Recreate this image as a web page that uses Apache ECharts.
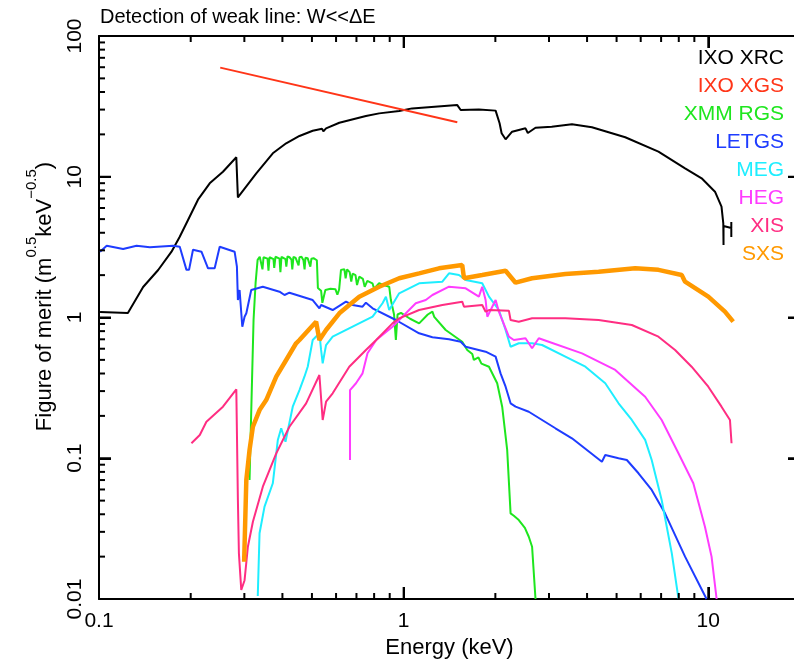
<!DOCTYPE html>
<html><head><meta charset="utf-8">
<script src="https://cdn.jsdelivr.net/npm/echarts@6/dist/echarts.min.js"></script>
<style>html,body{margin:0;padding:0;background:#fff}#c{width:794px;height:664px}</style>
</head><body><div id="c"></div>
<script>
const FONT = 'Liberation Sans, Arial, Helvetica, sans-serif';
const seriesNames = ['IXO XRC','IXO XGS','XMM RGS','LETGS','MEG','HEG','XIS','SXS'];
const seriesColors = ['#000000','#ff3518','#1ee61e','#1e3cff','#1eeeff','#ff3cff','#ff2d82','#ff9900'];
const seriesWidths = [2,2,2,2,2,2,2,4.5];
const xTickLabels = ['0.1','1','10'];
const yTickLabels = ['0.01','0.1','1','10','100'];
const xMinorTicks = [0.2,0.3,0.4,0.5,0.6,0.7,0.8,0.9,2,3,4,5,6,7,8,9];
const yMinorTicks = [0.02,0.03,0.04,0.05,0.06,0.07,0.08,0.09,0.2,0.3,0.4,0.5,0.6,0.7,0.8,0.9,2,3,4,5,6,7,8,9,20,30,40,50,60,70,80,90];
const xRange = [0.1, 20];
const yRange = [0.01, 100];

// [energy keV, figure of merit]
const ixoXrc = [[0.1008,1.094],[0.1244,1.076],[0.1396,1.647],[0.1564,2.175],[0.173,2.934],[0.1841,3.75],[0.196,4.93],[0.2113,6.87],[0.2309,8.98],[0.2552,10.86],[0.2823,13.75],[0.2857,7.14],[0.3283,10.58],[0.372,14.68],[0.4115,17.29],[0.455,19.48],[0.5029,21.24],[0.54,21.9],[0.545,21.0],[0.5563,22.08],[0.615,24.2],[0.7519,27.0],[0.831,28.2],[0.9667,29.3],[1.066,30.6],[1.5,32.3],[1.539,29.8],[1.766,30.1],[2.004,29.5],[2.065,23.98],[2.097,20.35],[2.161,18.45],[2.27,20.9],[2.512,22.08],[2.556,20.46],[2.709,22.3],[3.062,22.7],[3.568,23.6],[4.15,22.45],[5.338,19.07],[6.86,15.07],[8.39,11.48],[9.51,9.75],[10.52,7.83],[11.05,6.13],[11.2,4.67],[11.22,3.27],[11.22,4.47],[11.9,4.32],[11.9,4.77],[11.9,3.73]];
const ixoXgs = [[0.25,59.6],[1.5,24.4]];
const xmmRgs = [[0.312,0.070],[0.3167,0.259],[0.3216,0.96],[0.3266,1.76],[0.3316,2.57],[0.337,2.70],[0.3416,2.65],[0.344,2.2],[0.3468,2.68],[0.352,2.72],[0.3574,2.62],[0.360,2.15],[0.3628,2.68],[0.368,2.70],[0.3739,2.6],[0.376,2.25],[0.3795,2.7],[0.385,2.68],[0.3913,2.62],[0.394,2.1],[0.3972,2.7],[0.403,2.66],[0.4094,2.6],[0.412,2.3],[0.4156,2.72],[0.422,2.68],[0.4283,2.58],[0.431,2.2],[0.4348,2.7],[0.442,2.65],[0.4482,2.6],[0.452,2.35],[0.455,2.68],[0.462,2.7],[0.469,2.55],[0.473,2.2],[0.476,2.66],[0.484,2.64],[0.4905,2.6],[0.494,2.3],[0.498,2.62],[0.506,2.64],[0.5132,2.6],[0.519,2.55],[0.523,1.62],[0.529,1.61],[0.5358,1.55],[0.541,1.27],[0.5534,1.57],[0.575,1.6],[0.597,1.59],[0.606,1.45],[0.614,1.58],[0.6228,2.18],[0.632,2.25],[0.639,2.2],[0.645,1.9],[0.652,2.2],[0.665,2.1],[0.673,1.8],[0.68,2.05],[0.695,2.0],[0.703,1.7],[0.715,1.95],[0.735,1.88],[0.745,1.65],[0.76,1.82],[0.79,1.75],[0.80,1.6],[0.831,1.75],[0.86,1.7],[0.8966,1.655],[0.908,1.33],[0.93,1.05],[0.9429,0.692],[0.955,1.05],[0.98,1.08],[1.05,0.98],[1.124,0.909],[1.2,1.05],[1.243,1.10],[1.26,1.01],[1.374,0.815],[1.557,0.673],[1.617,0.588],[1.68,0.55],[1.70,0.5],[1.723,0.499],[1.76,0.52],[1.8,0.47],[1.906,0.447],[2.028,0.341],[2.106,0.2325],[2.187,0.1145],[2.244,0.0406],[2.30,0.039],[2.388,0.0364],[2.5,0.032],[2.575,0.0277],[2.64,0.0235],[2.709,0.01]];
const letgs = [[0.1008,2.934],[0.106,3.237],[0.12,3.066],[0.1328,3.237],[0.1469,3.153],[0.175,3.237],[0.1841,3.18],[0.1937,2.18],[0.1975,2.18],[0.2035,3.03],[0.2169,2.934],[0.228,2.236],[0.2397,2.236],[0.249,3.18],[0.2787,2.934],[0.2836,2.296],[0.2857,1.331],[0.2894,1.568],[0.2954,0.86],[0.3005,1.013],[0.3045,1.071],[0.316,1.568],[0.345,1.655],[0.3913,1.525],[0.4064,1.445],[0.4218,1.50],[0.5029,1.331],[0.529,1.162],[0.5358,1.227],[0.5848,1.13],[0.6468,1.295],[0.68,1.227],[0.733,1.193],[0.752,1.274],[0.7908,1.162],[0.9429,0.96],[1.124,0.772],[1.243,0.723],[1.409,0.70],[1.539,0.673],[1.598,0.62],[1.858,0.5715],[2.004,0.527],[2.08,0.401],[2.161,0.3224],[2.244,0.2457],[2.33,0.2325],[2.575,0.214],[3.149,0.1633],[3.568,0.1386],[4.475,0.0945],[4.59,0.1054],[5.075,0.0999],[5.403,0.0972],[5.9,0.0782],[6.52,0.0595],[7.21,0.0406],[8.39,0.02],[9.87,0.01]];
const meg = [[0.332,0.0105],[0.3365,0.0293],[0.3494,0.0453],[0.372,0.0664],[0.3864,0.135],[0.3963,0.1633],[0.4094,0.131],[0.4325,0.2325],[0.455,0.305],[0.4724,0.3797],[0.4843,0.447],[0.5029,0.692],[0.529,0.772],[0.5358,0.588],[0.5423,0.4727],[0.5563,0.6375],[0.5848,0.7305],[0.68,0.86],[0.7908,1.013],[0.8524,1.262],[0.8746,1.406],[0.8966,1.13],[0.9667,1.486],[1.124,1.75],[1.34,1.797],[1.409,2.06],[1.519,2.004],[1.598,1.847],[1.811,1.75],[1.906,1.406],[2.054,1.13],[2.161,0.815],[2.244,0.62],[2.388,0.656],[2.64,0.656],[2.847,0.6375],[3.395,0.527],[3.95,0.447],[4.59,0.341],[5.075,0.2457],[5.61,0.187],[6.205,0.135],[6.52,0.0972],[7.03,0.0505],[7.59,0.0211],[7.98,0.0101]];
const heg = [[0.6667,0.0972],[0.6667,0.305],[0.6976,0.341],[0.733,0.401],[0.761,0.5565],[0.8128,0.692],[0.919,0.86],[0.9667,0.96],[1.096,1.262],[1.182,1.331],[1.243,1.445],[1.409,1.655],[1.598,1.612],[1.766,1.406],[1.811,1.655],[1.858,1.331],[1.882,1.013],[2.004,1.331],[2.054,1.10],[2.106,0.96],[2.215,0.7305],[2.3,0.692],[2.512,0.712],[2.64,0.604],[2.777,0.712],[2.994,0.673],[3.85,0.5565],[4.95,0.424],[6.205,0.2737],[7.03,0.187],[7.98,0.1084],[8.93,0.0664],[9.75,0.0326],[10.25,0.02],[10.65,0.01]];
const xis = [[0.2011,0.1278],[0.2142,0.1463],[0.2252,0.1818],[0.2552,0.2325],[0.2823,0.309],[0.2857,0.0505],[0.2879,0.0211],[0.2931,0.01159],[0.3005,0.0136],[0.3081,0.0235],[0.32,0.0354],[0.345,0.0628],[0.3818,0.1084],[0.4218,0.1675],[0.4785,0.2457],[0.529,0.3903],[0.5423,0.187],[0.5563,0.2522],[0.5848,0.2892],[0.663,0.447],[0.7519,0.588],[0.8128,0.692],[0.919,0.909],[0.9667,0.987],[1.124,1.13],[1.34,1.227],[1.557,1.295],[1.578,1.193],[1.811,1.227],[1.858,1.10],[1.906,1.13],[2.215,1.118],[2.244,0.96],[2.388,0.934],[2.64,0.987],[3.395,0.987],[4.365,0.96],[5.61,0.885],[6.86,0.7305],[7.78,0.588],[8.815,0.447],[10.0,0.3224],[11.05,0.2325],[11.78,0.187],[11.92,0.1278]];
const sxs = [[0.2995,0.0184],[0.3045,0.070],[0.312,0.1145],[0.32,0.1675],[0.3365,0.22],[0.3539,0.259],[0.3818,0.3797],[0.4115,0.499],[0.4436,0.656],[0.455,0.692],[0.516,0.934],[0.529,0.692],[0.5563,0.815],[0.615,1.071],[0.715,1.406],[0.831,1.655],[0.9667,1.90],[1.124,2.06],[1.306,2.236],[1.557,2.36],[1.578,1.90],[1.811,2.004],[2.161,2.15],[2.33,1.767],[2.64,1.90],[3.395,2.037],[4.365,2.115],[5.754,2.236],[6.86,2.18],[8.18,2.004],[8.39,1.797],[10.0,1.406],[11.34,1.10],[12.07,0.934]];
const seriesData = [ixoXrc, ixoXgs, xmmRgs, letgs, meg, heg, xis, sxs];

function decadeLabel(labels, offset) {
  return function (v) {
    const e = Math.log10(v), r = Math.round(e);
    if (Math.abs(e - r) > 1e-6) return '';
    return labels[r + offset] || '';
  };
}
function axisLine() { return { show: true, lineStyle: { color: '#000', width: 2 } }; }
function majorTick() { return { show: true, inside: true, length: 12, lineStyle: { color: '#000', width: 2 } }; }
const lbl = { color: '#000', fontSize: 21, fontFamily: FONT };

const chart = echarts.init(document.getElementById('c'));
const lineSeries = seriesNames.map((n, i) => ({
  name: n, type: 'line', data: seriesData[i], showSymbol: false, symbol: 'none', clip: true,
  lineStyle: { color: seriesColors[i], width: seriesWidths[i] },
  z: 2 + i
}));
const legendTexts = seriesNames.map((n, i) => ({
  type: 'text', x: 784, y: 58 + 28 * i, z: 100,
  style: { text: n, fill: seriesColors[i], font: '21px ' + FONT, align: 'right', verticalAlign: 'middle' }
}));

chart.setOption({
  animation: false,
  backgroundColor: '#fff',
  title: { text: 'Detection of weak line: W<<ΔE', left: 100, top: 7, padding: 0,
    textStyle: { fontSize: 20, fontWeight: 'normal', color: '#000', fontFamily: FONT } },
  grid: { left: 99, top: 36, width: 701, height: 563, containLabel: false, outerBoundsMode: 'none' },
  xAxis: [
    { type: 'log', min: xRange[0], max: xRange[1], position: 'bottom',
      axisLine: axisLine(), axisTick: majorTick(), splitLine: { show: false },
      axisLabel: Object.assign({ margin: 12, formatter: decadeLabel(xTickLabels, 1), showMaxLabel: false }, lbl),
      name: 'Energy (keV)', nameLocation: 'middle', nameGap: 37,
      nameTextStyle: { color: '#000', fontSize: 22, fontFamily: FONT } },
    { type: 'log', min: xRange[0], max: xRange[1], position: 'top',
      axisLine: axisLine(), axisTick: majorTick(), splitLine: { show: false }, axisLabel: { show: false } }
  ],
  yAxis: [
    { type: 'log', min: yRange[0], max: yRange[1], position: 'left',
      axisLine: axisLine(), axisTick: majorTick(), splitLine: { show: false },
      axisLabel: Object.assign({ margin: 13, rotate: 90, formatter: decadeLabel(yTickLabels, 2) }, lbl),
      name: '{b|Figure of merit (m}{sup|0.5}{b|keV}{sup|−0.5}{b|)}', nameLocation: 'middle', nameRotate: 90, nameGap: 43,
      nameTextStyle: { color: '#000', fontFamily: FONT, fontSize: 22, padding: [0, 0, 0, 42],
        rich: { b: { fontSize: 22, lineHeight: 32, verticalAlign: 'bottom', fontFamily: FONT, color: '#000' },
                sup: { fontSize: 15, lineHeight: 14, verticalAlign: 'top', fontFamily: FONT, color: '#000' } } } },
    { type: 'log', min: yRange[0], max: yRange[1], position: 'right',
      axisLine: axisLine(), axisTick: majorTick(), splitLine: { show: false }, axisLabel: { show: false } }
  ],
  graphic: legendTexts,
  series: lineSeries
});

// Minor (and major) tick marks placed through the chart's own log scales.
const finder = { xAxisIndex: 0, yAxisIndex: 0 };
function seg(x1, y1, x2, y2) {
  return { type: 'line', silent: true, z: 50, shape: { x1, y1, x2, y2 }, style: { stroke: '#000', lineWidth: 2 } };
}
const tickEls = [];
function addX(v, len) {
  const b = chart.convertToPixel(finder, [v, yRange[0]]);
  const t = chart.convertToPixel(finder, [v, yRange[1]]);
  if (b && t && isFinite(b[0]) && isFinite(b[1]) && isFinite(t[1])) {
    tickEls.push(seg(b[0], b[1], b[0], b[1] - len), seg(t[0], t[1], t[0], t[1] + len));
  }
}
function addY(v, len) {
  const l = chart.convertToPixel(finder, [xRange[0], v]);
  const r = chart.convertToPixel(finder, [xRange[1], v]);
  if (l && r && isFinite(l[0]) && isFinite(l[1]) && isFinite(r[0])) {
    tickEls.push(seg(l[0], l[1], l[0] + len, l[1]), seg(r[0], r[1], r[0] - len, r[1]));
  }
}
try {
  xTickLabels.map(Number).forEach(v => addX(v, 12));
  xMinorTicks.forEach(v => addX(v, 6));
  yTickLabels.map(Number).forEach(v => addY(v, 12));
  yMinorTicks.forEach(v => addY(v, 6));
  chart.setOption({ graphic: legendTexts.concat(tickEls) });
} catch (e) { /* keep chart without extra ticks */ }
</script></body></html>
